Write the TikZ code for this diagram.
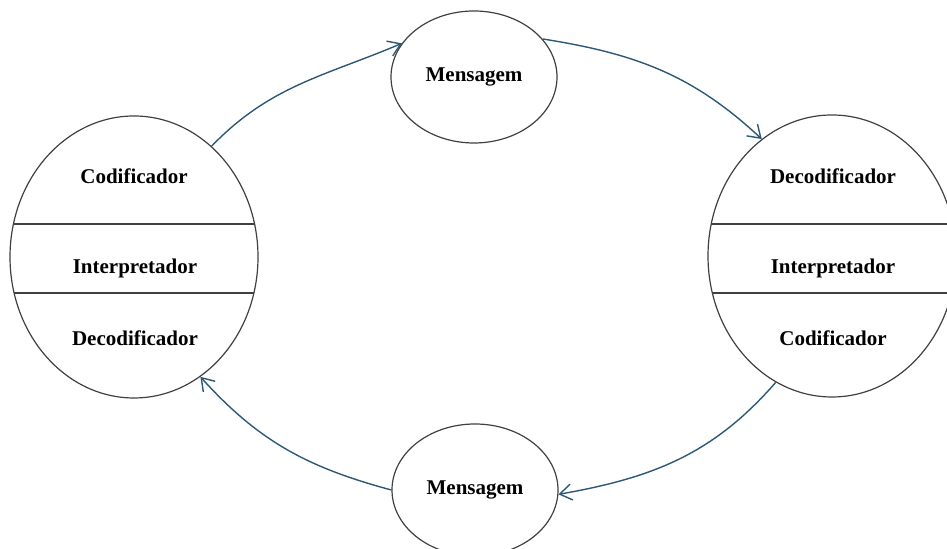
\documentclass[tikz,border=0pt]{standalone}
\usepackage{fontspec}
\setmainfont{Liberation Serif}
\usetikzlibrary{shapes.geometric,arrows.meta}
\definecolor{linkblue}{RGB}{44,88,118}
\begin{document}
\begin{tikzpicture}[
  x=0.5pt,y=0.5pt,
  part/.style={ellipse,draw=black!75,line width=0.6pt,minimum width=124pt,minimum height=141pt,inner sep=0pt},
  msg/.style={ellipse,draw=black!75,line width=0.6pt,minimum width=83pt,minimum height=66pt,inner sep=0pt,font=\bfseries\fontsize{10.5}{12}\selectfont},
  lbl/.style={font=\bfseries\fontsize{10.5}{12}\selectfont,inner sep=1pt},
  chord/.style={draw=black!75,line width=0.6pt},
  flow/.style={draw=linkblue,line width=0.7pt,-{Straight Barb[length=6pt,width=8pt]}}
]
\useasboundingbox (0,0) rectangle (947,549);
\clip (0,0) rectangle (947,549);
% emissor and receptor
\node[part] (L) at (134,292) {};
\node[part] (R) at (832,293) {};
% divisions inside the ellipses
\begin{scope}
  \clip (L.center) ellipse [x radius=124, y radius=141];
  \draw[chord] (0,325) -- (300,325) (0,256) -- (300,256);
\end{scope}
\begin{scope}
  \clip (R.center) ellipse [x radius=124, y radius=141];
  \draw[chord] (650,325) -- (960,325) (650,256) -- (960,256);
\end{scope}
\node[lbl] (Lcod) at (134,373) {Codificador};
\node[lbl] (Lint) at (135,281) {Interpretador};
\node[lbl] (Ldec) at (135,211) {Decodificador};
\node[lbl] (Rdec) at (833,373) {Decodificador};
\node[lbl] (Rint) at (833,281) {Interpretador};
\node[lbl] (Rcod) at (833,211) {Codificador};
% messages
\node[msg] (M1) at (474,472) {Mensagem};
\node[msg] (M2) at (475,59) {Mensagem};
% flows
\draw[flow] (L.55) to[out=46,in=203] (M1.155);
\draw[flow] (M1.29) to[out=-9,in=137] (R.121);
\draw[flow] (R.246) to[out=229,in=10] (M2.357);
\draw[flow] (M2.180) to[out=165,in=312] (L.299);
\end{tikzpicture}
\end{document}
